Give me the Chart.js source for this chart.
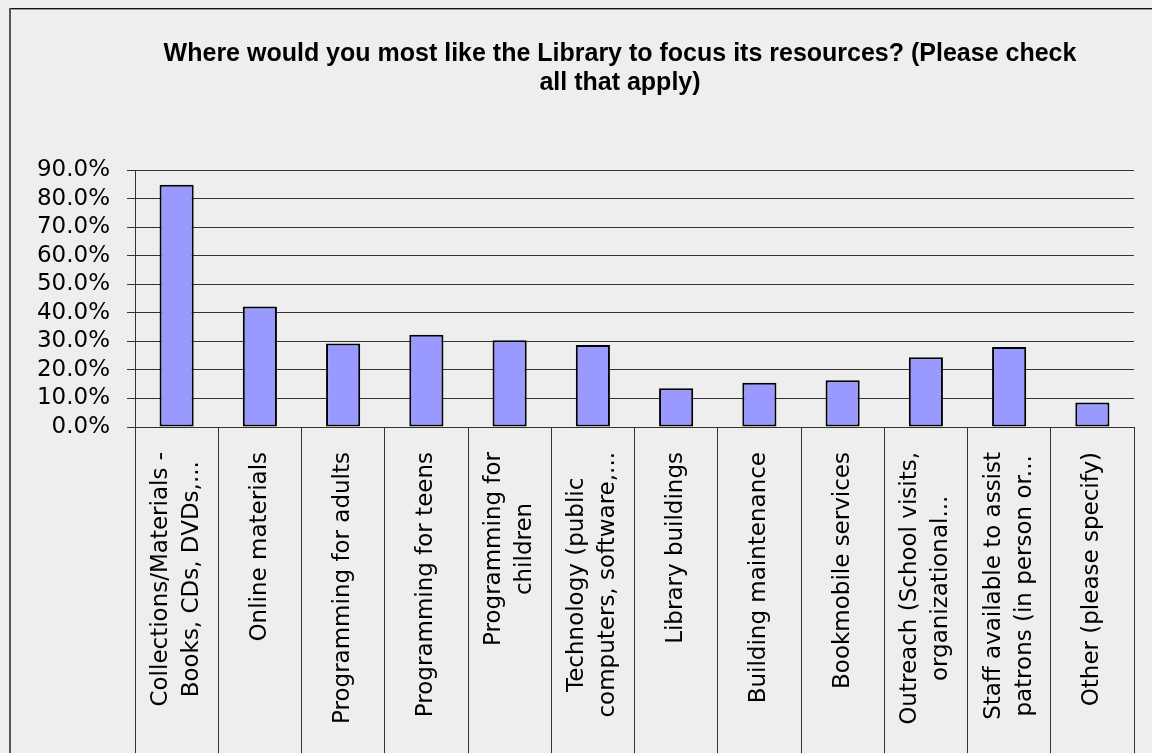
<!DOCTYPE html>
<html>
<head>
<meta charset="utf-8">
<script src="https://cdn.jsdelivr.net/npm/chart.js@4.4.0/dist/chart.umd.min.js"></script>
<style>
  html, body { margin: 0; padding: 0; background: #eeeeee; }
  canvas { display: block; }
</style>
</head>
<body>
<canvas id="c" width="1152" height="753"></canvas>
<script>
// ---- data ----
const titleLines = [
  'Where would you most like the Library to focus its resources? (Please check',
  'all that apply)'
];
const categoryLabels = [
  ['Collections/Materials -', 'Books, CDs, DVDs,...'],
  ['Online materials'],
  ['Programming for adults'],
  ['Programming for teens'],
  ['Programming for', 'children'],
  ['Technology (public', 'computers, software,...'],
  ['Library buildings'],
  ['Building maintenance'],
  ['Bookmobile services'],
  ['Outreach (School visits,', 'organizational...'],
  ['Staff available to assist', 'patrons (in person or...'],
  ['Other (please specify)']
];
const percentValues = [84.8, 42.2, 29.2, 32.3, 30.4, 28.7, 13.6, 15.5, 16.4, 24.4, 28.0, 8.6];
const yTickMax = 90;
const yTickStep = 10;

// ---- plugins ----
const framePlugin = {
  id: 'frame',
  beforeDraw(chart) {
    const ctx = chart.ctx;
    ctx.save();
    ctx.fillStyle = '#eeeeee';
    ctx.fillRect(0, 0, chart.width, chart.height);
    ctx.fillStyle = '#111111';
    ctx.fillRect(9, 8, chart.width - 9, 1);
    ctx.fillStyle = '#9a9a9a';
    ctx.fillRect(11, 9, chart.width - 11, 1);
    ctx.fillStyle = '#555555';
    ctx.fillRect(9, 8, 2, chart.height - 8);
    ctx.restore();
  }
};

const titlePlugin = {
  id: 'chartTitle',
  afterDraw(chart) {
    const ctx = chart.ctx;
    ctx.save();
    ctx.font = 'bold 25px "Liberation Sans", Arial, sans-serif';
    ctx.fillStyle = '#000000';
    ctx.textAlign = 'center';
    ctx.textBaseline = 'alphabetic';
    const cx = 620;
    const baselines = [61, 90];
    titleLines.forEach((t, i) => ctx.fillText(t, cx, baselines[i]));
    ctx.restore();
  }
};

const categoryLabelPlugin = {
  id: 'categoryLabels',
  afterDraw(chart) {
    const ctx = chart.ctx;
    const xs = chart.scales.x;
    const top = chart.chartArea.bottom + 25;
    const lineSpacing = 31;
    ctx.save();
    ctx.font = '23px "DejaVu Sans"';
    ctx.fillStyle = '#000000';
    ctx.textAlign = 'center';
    ctx.textBaseline = 'middle';
    chart.data.labels.forEach((lines, i) => {
      const cx = xs.getPixelForValue(i);
      const w = Math.max(...lines.map(l => ctx.measureText(l).width));
      const cy = top + w / 2;
      const n = lines.length;
      lines.forEach((line, k) => {
        const x = cx + (k - (n - 1) / 2) * lineSpacing;
        ctx.save();
        ctx.translate(x, cy);
        ctx.rotate(-Math.PI / 2);
        ctx.fillText(line, 0, 0);
        ctx.restore();
      });
    });
    ctx.restore();
  }
};

new Chart(document.getElementById('c'), {
  type: 'bar',
  data: {
    labels: categoryLabels,
    datasets: [{
      data: percentValues,
      backgroundColor: '#9999ff',
      borderColor: '#000000',
      borderWidth: 2,
      borderSkipped: false,
      barPercentage: 0.41,
      categoryPercentage: 1.0
    }]
  },
  options: {
    responsive: false,
    animation: false,
    layout: { padding: { left: 10, right: 18, top: 170, bottom: 0 } },
    plugins: {
      legend: { display: false },
      tooltip: { enabled: false },
      title: { display: false }
    },
    scales: {
      x: {
        grid: {
          offset: true,
          drawOnChartArea: false,
          tickLength: 326,
          color: '#333333',
          lineWidth: 1
        },
        border: { display: true, color: '#333333', width: 1 },
        ticks: { display: false }
      },
      y: {
        min: 0,
        max: yTickMax,
        afterFit(scale) { scale.width = 125; },
        grid: {
          color: '#333333',
          lineWidth: 1,
          tickLength: 8
        },
        border: { display: true, color: '#333333', width: 1 },
        ticks: {
          stepSize: yTickStep,
          autoSkip: false,
          padding: 17,
          color: '#000000',
          font: { family: "'DejaVu Sans'", size: 23, lineHeight: 1 },
          callback: v => v.toFixed(1) + '%'
        }
      }
    }
  },
  plugins: [framePlugin, titlePlugin, categoryLabelPlugin]
});
</script>
</body>
</html>
